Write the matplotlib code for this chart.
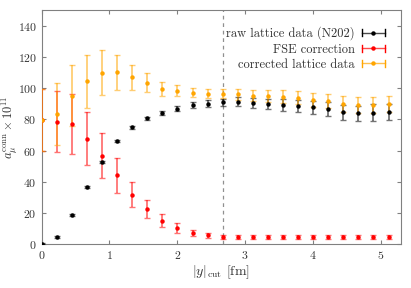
import numpy as np
import matplotlib
matplotlib.use('Agg')
import matplotlib.pyplot as plt
from matplotlib.lines import Line2D

plt.rcParams['font.family'] = 'serif'
plt.rcParams['font.serif'] = ['cmr10']
plt.rcParams['mathtext.fontset'] = 'cm'
plt.rcParams['axes.formatter.use_mathtext'] = True

### DATA ###

ycut = np.arange(24) * 0.2225   # |y|_cut in fm

raw = [0.0, 4.5, 18.6, 36.3, 52.8, 66.0, 75.0, 80.7, 84.3, 86.9, 89.1, 90.1,
       91.0, 91.2, 90.4, 89.9, 89.3, 88.6, 87.8, 86.5, 84.6, 83.9, 84.4, 84.6]
raw_err = [0.3, 0.4, 0.5, 0.6, 0.7, 0.8, 0.9, 1.0, 1.3, 1.4, 1.8, 2.2,
           2.4, 2.9, 3.2, 3.4, 3.7, 4.0, 4.3, 4.6, 4.8, 5.0, 5.2, 5.3]

fse = [79.5, 78.6, 77.0, 67.7, 56.6, 44.0, 31.6, 22.4, 15.0, 10.3, 7.0, 5.5,
       4.6, 4.4, 4.4, 4.4, 4.4, 4.4, 4.4, 4.4, 4.4, 4.4, 4.4, 4.4]
fse_err = [20.0, 19.5, 19.3, 17.3, 14.4, 11.2, 8.2, 5.8, 4.1, 3.0, 2.2, 1.7,
           1.4, 1.3, 1.3, 1.3, 1.3, 1.3, 1.3, 1.3, 1.3, 1.3, 1.3, 1.3]

corr = [79.5, 83.6, 95.3, 104.5, 110.0, 110.2, 106.9, 103.6, 99.6, 98.3, 97.2, 96.6,
        96.5, 96.1, 95.3, 94.9, 94.6, 94.0, 92.5, 91.8, 89.7, 89.3, 89.3, 89.9]
corr_err = [20.0, 19.8, 19.3, 17.0, 14.3, 11.2, 8.2, 5.9, 4.3, 3.5, 3.0, 3.0,
            3.0, 3.4, 3.6, 3.8, 4.0, 4.3, 4.5, 4.7, 5.0, 5.2, 5.3, 5.4]

y_window = 12 * 0.2225   # dashed marker line

series = [(raw, raw_err, 'black', 'raw lattice data (N202)'),
          (fse, fse_err, '#ff0000', 'FSE correction'),
          (corr, corr_err, '#ffa500', 'corrected lattice data')]


# gnuplot-like legend sample: horizontal bar with caps and a dot
class ErrSample:
    def legend_artist(self, legend, orig, fontsize, handlebox):
        x0, y0 = -handlebox.xdescent, -handlebox.ydescent
        w, h = handlebox.width, handlebox.height
        c = orig.get_color()
        ym = y0 + h / 2
        items = [Line2D([x0, x0 + w], [ym, ym], color=c, lw=1.0, alpha=0.7),
                 Line2D([x0, x0], [ym - 2.5, ym + 2.5], color=c, lw=1.0),
                 Line2D([x0 + w, x0 + w], [ym - 2.5, ym + 2.5], color=c, lw=1.0),
                 Line2D([x0 + w / 2], [ym], color=c, marker='o', ms=2.2, ls='')]
        for a in items:
            handlebox.add_artist(a)
        return items[0]


### PLOT ###

fig = plt.figure(figsize=(4.11, 2.88), dpi=100)
ax = fig.add_axes([0.1015, 0.153, 0.874, 0.811])

ax.axvline(y_window, color='#909090', lw=0.9, ls=(0, (3, 3)), zorder=1)

handles = []
for vals, errs, col, lab in series:
    eb = ax.errorbar(ycut, vals, yerr=errs, fmt='o', ms=2.2, color=col,
                     ecolor=matplotlib.colors.to_rgba(col, 0.55), elinewidth=1.3,
                     capsize=2.5, capthick=1.0, zorder=3)
    handles.append(Line2D([], [], color=col, label=lab))

ax.set_xlim(0, 5.3)
ax.set_ylim(0, 150)
ax.set_xticks([0, 1, 2, 3, 4, 5])
ax.set_yticks(np.arange(0, 141, 20))
ax.tick_params(direction='in', top=True, right=True, length=3, width=0.8,
               color='#808080', labelsize=8.5, labelcolor='#333333', pad=3.5)
for s in ax.spines.values():
    s.set_color('#808080')
    s.set_linewidth(0.8)

ax.set_xlabel(r'$|y|_{\rm cut}$ [fm]', fontsize=10, color='#333333', labelpad=2)
ax.set_ylabel(r'$a_\mu^{\rm conn}\times 10^{11}$', fontsize=9, color='#333333')
ax.yaxis.set_label_coords(-0.06, 0.5)

ax.legend(handles=handles, handler_map={Line2D: ErrSample()}, loc='upper right',
          frameon=False, markerfirst=False, fontsize=9, handlelength=1.8,
          handletextpad=0.6, labelspacing=0.25, borderaxespad=0.9,
          labelcolor='#333333')

fig.savefig('out.png', dpi=100)
